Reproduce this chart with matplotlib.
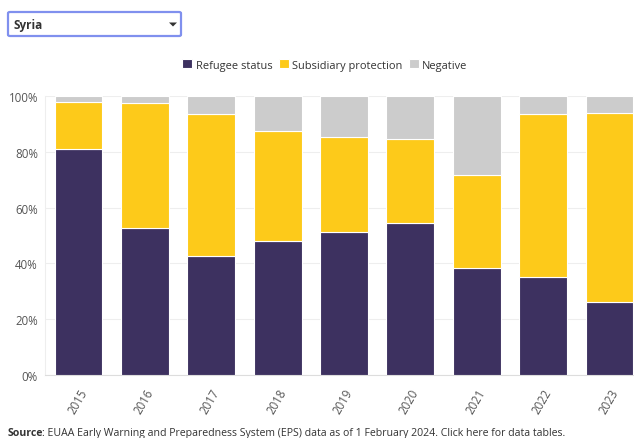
import matplotlib
matplotlib.use("Agg")
import matplotlib.pyplot as plt
from matplotlib.patches import FancyBboxPatch, Polygon
import numpy as np

plt.rcParams['font.family'] = ['Open Sans', 'DejaVu Sans']

years = ["2015", "2016", "2017", "2018", "2019", "2020", "2021", "2022", "2023"]
refugee = [81.0, 52.6, 42.5, 48.1, 51.3, 54.5, 38.4, 35.1, 26.2]
subsidiary = [16.7, 44.9, 51.2, 39.4, 33.9, 30.0, 33.4, 58.6, 67.6]
negative = [100 - r - s for r, s in zip(refugee, subsidiary)]

series = [("Refugee status", refugee, "#3d3160"),
          ("Subsidiary protection", subsidiary, "#fdca1a"),
          ("Negative", negative, "#cccccc")]

W, H = 634, 439
fig = plt.figure(figsize=(W / 100, H / 100), dpi=100)
ax = fig.add_axes([45 / W, (H - 376) / H, (634 - 45) / W, (376 - 97) / H])

x = np.arange(len(years))
bottom = np.zeros(len(years))
handles = []
for name, vals, col in series:
    b = ax.bar(x, vals, 0.72, bottom=bottom, color=col, edgecolor="white",
               linewidth=0.8, label=name, zorder=3)
    handles.append(b)
    bottom += np.array(vals)

ax.set_ylim(0, 100)
ax.set_xlim(-0.505, 8.37)
ax.set_yticks([0, 20, 40, 60, 80, 100])
ax.set_yticklabels([f"{v}%" for v in [0, 20, 40, 60, 80, 100]])
ax.set_xticks(x)
ax.set_xticklabels(years, rotation=60, ha="right", va="top", rotation_mode="anchor")
ax.tick_params(axis="both", length=0, colors="#555555", labelsize=8.3)
ax.tick_params(axis="x", pad=8)
ax.tick_params(axis="y", pad=5)
ax.grid(axis="y", color="#eeeeee", linewidth=0.8, zorder=0)
for s in ["top", "right"]:
    ax.spines[s].set_visible(False)
ax.spines["left"].set_color("#eeeeee")
ax.spines["bottom"].set_color("#dddddd")

fig.legend(handles=handles, loc="center", bbox_to_anchor=(325 / W, 1 - 66 / H),
           ncol=3, frameon=False, fontsize=7.9, handlelength=0.9, handleheight=0.9,
           handletextpad=0.3, columnspacing=0.6, labelcolor="#333333")

# dropdown box
box = FancyBboxPatch((8 / W, 1 - 37 / H), 173 / W, 24 / H,
                     boxstyle="round,pad=0,rounding_size=0.003",
                     transform=fig.transFigure, facecolor="white",
                     edgecolor="#8090ee", linewidth=1.6)
fig.patches.append(box)
fig.text(13 / W, 1 - 25 / H, "Syria", fontsize=8.5, fontweight="bold",
         color="#333333", va="center", ha="left")
tri = Polygon([[169 / W, 1 - 23.5 / H], [177 / W, 1 - 23.5 / H], [173 / W, 1 - 27.5 / H]],
              closed=True, transform=fig.transFigure, facecolor="#333333", edgecolor="none")
fig.patches.append(tri)

# source line
t1 = fig.text(8 / W, 1 - 434 / H, "Source", fontsize=7.6, fontweight="bold",
              color="#333333", va="center", ha="left")
r = fig.canvas.get_renderer()
ext = t1.get_window_extent(renderer=r)
fig.text((ext.x1 - 2) / W, 1 - 434 / H,
         ": EUAA Early Warning and Preparedness System (EPS) data as of 1 February 2024. Click here for data tables.",
         fontsize=7.6, color="#333333", va="center", ha="left")

fig.savefig("out.png", dpi=100)
